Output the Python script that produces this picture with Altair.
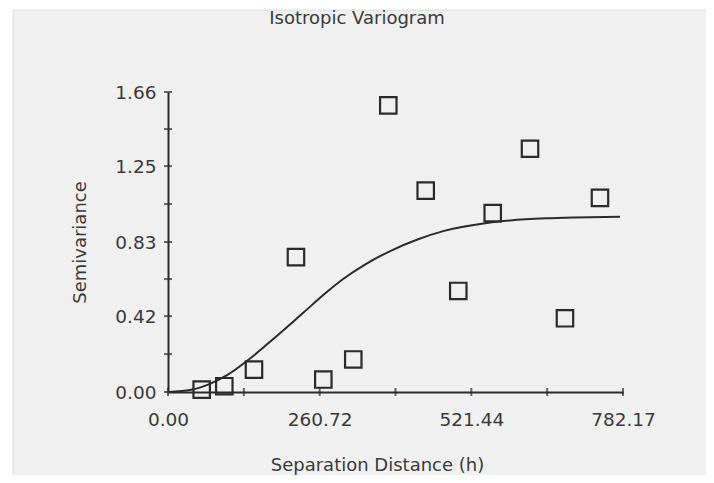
import altair as alt
import pandas as pd

# ---- data ----
title_text = "Isotropic Variogram"
x_title = "Separation Distance (h)"
y_title = "Semivariance"

x_tick_labels = [0.00, 260.72, 521.44, 782.17]
y_tick_labels = [0.00, 0.42, 0.83, 1.25, 1.66]

lag_h = [57.9, 96.8, 147.8, 220.0, 267.0, 318.5, 378.7, 443.0, 499.0, 558.2, 622.3, 682.4, 742.6]
semivar = [0.013, 0.032, 0.124, 0.746, 0.069, 0.180, 1.586, 1.114, 0.559, 0.990, 1.346, 0.408, 1.074]

model_h = [0, 40, 72, 100, 135, 187, 233, 273, 301, 340, 382, 430, 473, 548, 588, 650, 700, 777]
model_g = [0.0, 0.012, 0.045, 0.09, 0.17, 0.31, 0.44, 0.553, 0.625, 0.708, 0.78, 0.845, 0.89, 0.935, 0.949, 0.961, 0.966, 0.97]

# ---- tables ----
pts = pd.DataFrame({"h": lag_h, "g": semivar})
model = pd.DataFrame({"h": model_h, "g": model_g})


def with_minor(vals):
    out = []
    for a, b in zip(vals[:-1], vals[1:]):
        out += [a, (a + b) / 2]
    out.append(vals[-1])
    return out


xt = pd.DataFrame({"h": with_minor(x_tick_labels)})
yt = pd.DataFrame({"g": with_minor(y_tick_labels)})

W, H = 455, 300
FONT = "DejaVu Sans"
INK = "#2a2a2a"
TXT = "#3a3a3a"

xscale = alt.Scale(domain=[x_tick_labels[0], x_tick_labels[-1]], nice=False, zero=False)
yscale = alt.Scale(domain=[y_tick_labels[0], y_tick_labels[-1]], nice=False, zero=False)

xaxis = alt.Axis(
    values=x_tick_labels, format=".2f", ticks=False, tickSize=0, grid=False, zindex=1,
    domainColor=INK, domainWidth=2, labelFont=FONT, labelFontSize=18.5, labelColor=TXT,
    labelPadding=27, labelBaseline="middle", labelFlush=False, labelOverlap=False,
    title=x_title, titleFont=FONT, titleFontSize=18, titleFontWeight="normal", titleColor=TXT,
    titleX=209, titleY=73, titleBaseline="middle", titleAlign="center",
)
yaxis = alt.Axis(
    values=y_tick_labels, format=".2f", ticks=False, tickSize=0, grid=False, zindex=1,
    domainColor=INK, domainWidth=2, labelFont=FONT, labelFontSize=18.5, labelColor=TXT,
    labelPadding=12, labelFlush=False, labelOverlap=False,
    title=y_title, titleFont=FONT, titleFontSize=18, titleFontWeight="normal", titleColor=TXT,
    titleX=-88, titleY=150, titleAngle=-90, titleBaseline="middle", titleAlign="center",
)

one = pd.DataFrame({"t": [title_text]})

bg = alt.Chart(one).mark_rect(color="#f0f0f0", stroke="#dedede", strokeWidth=1).encode(
    x=alt.value(-155), x2=alt.value(W + 120), y=alt.value(-82), y2=alt.value(H + 120)
)

curve = alt.Chart(model).mark_line(color=INK, strokeWidth=2, interpolate="monotone").encode(
    x=alt.X("h:Q", scale=xscale, axis=xaxis),
    y=alt.Y("g:Q", scale=yscale, axis=yaxis),
)

xticks = alt.Chart(xt).mark_tick(color=INK, size=8, thickness=2, orient="vertical").encode(
    x=alt.X("h:Q", scale=xscale), y=alt.value(H)
)
yticks = alt.Chart(yt).mark_tick(color=INK, size=8, thickness=2, orient="horizontal").encode(
    y=alt.Y("g:Q", scale=yscale), x=alt.value(0)
)

points = alt.Chart(pts).mark_point(
    shape="square", filled=False, size=270, strokeWidth=2.2, color=INK, opacity=1
).encode(
    x=alt.X("h:Q", scale=xscale),
    y=alt.Y("g:Q", scale=yscale),
)

title = alt.Chart(one).mark_text(font=FONT, fontSize=18, color=TXT, align="center", baseline="middle").encode(
    text="t:N", x=alt.value(189), y=alt.value(-73)
)

chart = alt.layer(bg, curve, xticks, yticks, points, title).properties(
    width=W, height=H,
    autosize=alt.AutoSizeParams(type="none"),
    padding={"left": 160, "top": 84, "right": 83, "bottom": 83},
    background="white",
).configure_view(strokeWidth=0)

chart.save("out.html", embed_options={"renderer": "svg", "actions": False})
